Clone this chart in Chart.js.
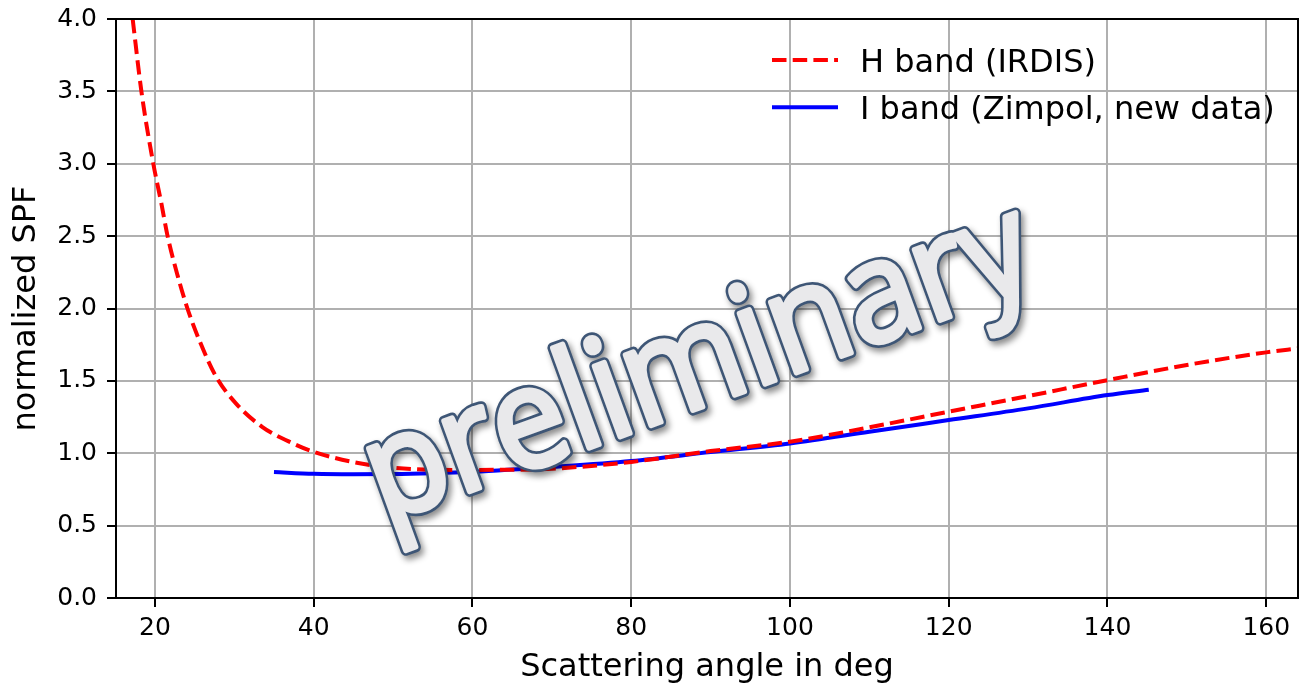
<!DOCTYPE html>
<html>
<head>
<meta charset="utf-8">
<title>normalized SPF</title>
<script src="https://cdn.jsdelivr.net/npm/chart.js@4/dist/chart.umd.min.js"></script>
<style>
    html, body { margin: 0; padding: 0; background: #fff; }
    #wrap { width: 1299px; height: 685px; }
</style>
</head>
<body>
<div id="wrap"><canvas id="spf-chart" width="1299" height="685"></canvas></div>
<script>
// --- data ---
const anglesH = [17.2, 18.3, 19.8, 20.8, 21.6, 22.9, 24.1, 25.6, 27.7, 30.2, 33.5, 37.4, 40, 44.9, 50,
                 55, 60, 65, 70, 80, 90, 100, 110, 120, 130, 140, 150, 160, 164];
const spfH    = [4.0, 3.5, 3.0, 2.73, 2.5, 2.22, 2.0, 1.78, 1.53, 1.345, 1.183, 1.068, 1.01, 0.94, 0.90,
                 0.886, 0.885, 0.886, 0.893, 0.94, 1.015, 1.08, 1.179, 1.287, 1.395, 1.505, 1.61, 1.697, 1.724];

const anglesI = [35, 40, 45, 50, 55, 60, 70, 80, 90, 100, 110, 120, 130, 140, 145.2];
const spfI    = [0.870, 0.858, 0.855, 0.856, 0.862, 0.872, 0.905, 0.946, 1.008, 1.068, 1.148, 1.229, 1.31, 1.402, 1.439];

const xTicks = [20, 40, 60, 80, 100, 120, 140, 160];
const yTicks = [0.0, 0.5, 1.0, 1.5, 2.0, 2.5, 3.0, 3.5, 4.0];

const seriesLabels = ['H band (IRDIS)', 'I band (Zimpol, new data)'];
const watermarkText = 'preliminary';

const FONT = '"DejaVu Sans", sans-serif';

const toPoints = (xs, ys) => xs.map((x, i) => ({ x, y: ys[i] }));

// matplotlib-like box: top and right spines
const framePlugin = {
    id: 'frame',
    afterDatasetsDraw(chart) {
        const { ctx, chartArea: a } = chart;
        ctx.save();
        ctx.strokeStyle = '#000';
        ctx.lineWidth = 2;
        ctx.beginPath();
        ctx.moveTo(a.left, a.top);
        ctx.lineTo(a.right, a.top);
        ctx.lineTo(a.right, a.bottom);
        ctx.stroke();
        ctx.restore();
    }
};

// legend drawn inside the axes, no frame
const legendPlugin = {
    id: 'innerLegend',
    afterDraw(chart) {
        const { ctx } = chart;
        const rows = [60, 107.3];
        ctx.save();
        chart.data.datasets.forEach((ds, i) => {
            const y = rows[i];
            ctx.strokeStyle = ds.borderColor;
            ctx.lineWidth = ds.borderWidth;
            ctx.setLineDash(ds.borderDash || []);
            ctx.beginPath();
            ctx.moveTo(772, y);
            ctx.lineTo(838, y);
            ctx.stroke();
            ctx.setLineDash([]);
            ctx.fillStyle = '#000';
            ctx.font = '32px ' + FONT;
            ctx.textBaseline = 'alphabetic';
            ctx.fillText(ds.label, 860, y + 11.7);
        });
        ctx.restore();
    }
};

// "preliminary" stamp on top of everything
const watermarkPlugin = {
    id: 'watermark',
    afterDraw(chart) {
        const { ctx } = chart;
        ctx.save();
        ctx.translate(712.6, 403);
        ctx.rotate(-20 * Math.PI / 180);
        ctx.font = '140px "Open Sans", sans-serif';
        const w = ctx.measureText(watermarkText).width;
        ctx.scale(700 / w, 1);
        ctx.textAlign = 'center';
        ctx.textBaseline = 'alphabetic';
        ctx.lineJoin = 'round';

        // soft drop shadow under the thickened glyphs
        ctx.shadowColor = 'rgba(0,0,0,0.45)';
        ctx.shadowBlur = 6;
        ctx.shadowOffsetX = 3;
        ctx.shadowOffsetY = 4;
        ctx.strokeStyle = '#3e5676';
        ctx.lineWidth = 11;
        ctx.strokeText(watermarkText, 0, 0);

        ctx.shadowColor = 'transparent';
        ctx.strokeStyle = '#e9e9eb';
        ctx.lineWidth = 5.5;
        ctx.strokeText(watermarkText, 0, 0);
        ctx.fillStyle = '#e9e9eb';
        ctx.fillText(watermarkText, 0, 0);
        ctx.restore();
    }
};

const gridStyle = {
    color: '#b0b0b0',
    lineWidth: 2,
    tickColor: '#000',
    tickLength: 9,
    tickWidth: 2
};

new Chart(document.getElementById('spf-chart'), {
    type: 'line',
    data: {
        datasets: [
            {
                label: seriesLabels[0],
                data: toPoints(anglesH, spfH),
                borderColor: '#ff0000',
                borderWidth: 4,
                borderDash: [14.5, 6.2],
                pointRadius: 0,
                cubicInterpolationMode: 'monotone',
                clip: 0
            },
            {
                label: seriesLabels[1],
                data: toPoints(anglesI, spfI),
                borderColor: '#0000ff',
                borderWidth: 4,
                pointRadius: 0,
                cubicInterpolationMode: 'monotone',
                clip: 0
            }
        ]
    },
    options: {
        responsive: false,
        animation: false,
        devicePixelRatio: 1,
        layout: { padding: { top: 19, right: 1, left: 0, bottom: 0 } },
        plugins: {
            legend: { display: false },
            tooltip: { enabled: false }
        },
        scales: {
            x: {
                type: 'linear',
                min: 15.1,
                max: 164,
                afterBuildTicks: scale => { scale.ticks = xTicks.map(v => ({ value: v })); },
                afterFit: scale => {
                    scale.height = 87;
                    scale.paddingLeft = 0;
                    scale.paddingRight = 0;
                },
                grid: gridStyle,
                border: { color: '#000', width: 2 },
                ticks: {
                    color: '#000',
                    padding: 6,
                    font: { family: FONT, size: 25 },
                    callback: v => String(v)
                },
                title: {
                    display: true,
                    text: 'Scattering angle in deg',
                    color: '#000',
                    font: { family: FONT, size: 32, lineHeight: 1 },
                    padding: { top: 0, bottom: 1.8 }
                }
            },
            y: {
                type: 'linear',
                min: 0,
                max: 4,
                afterBuildTicks: scale => { scale.ticks = yTicks.map(v => ({ value: v })); },
                afterFit: scale => {
                    // keep the plot box where the figure has it; labels may overhang
                    scale.width = 116;
                    scale.paddingTop = 0;
                    scale.paddingBottom = 0;
                },
                grid: gridStyle,
                border: { color: '#000', width: 2 },
                ticks: {
                    color: '#000',
                    padding: 10,
                    font: { family: FONT, size: 25 },
                    callback: v => v.toFixed(1)
                },
                title: {
                    display: true,
                    text: 'normalized SPF',
                    color: '#000',
                    font: { family: FONT, size: 32, lineHeight: 1 },
                    padding: { top: 10.6, bottom: 0 }
                }
            }
        }
    },
    plugins: [framePlugin, legendPlugin, watermarkPlugin]
});
</script>
</body>
</html>
